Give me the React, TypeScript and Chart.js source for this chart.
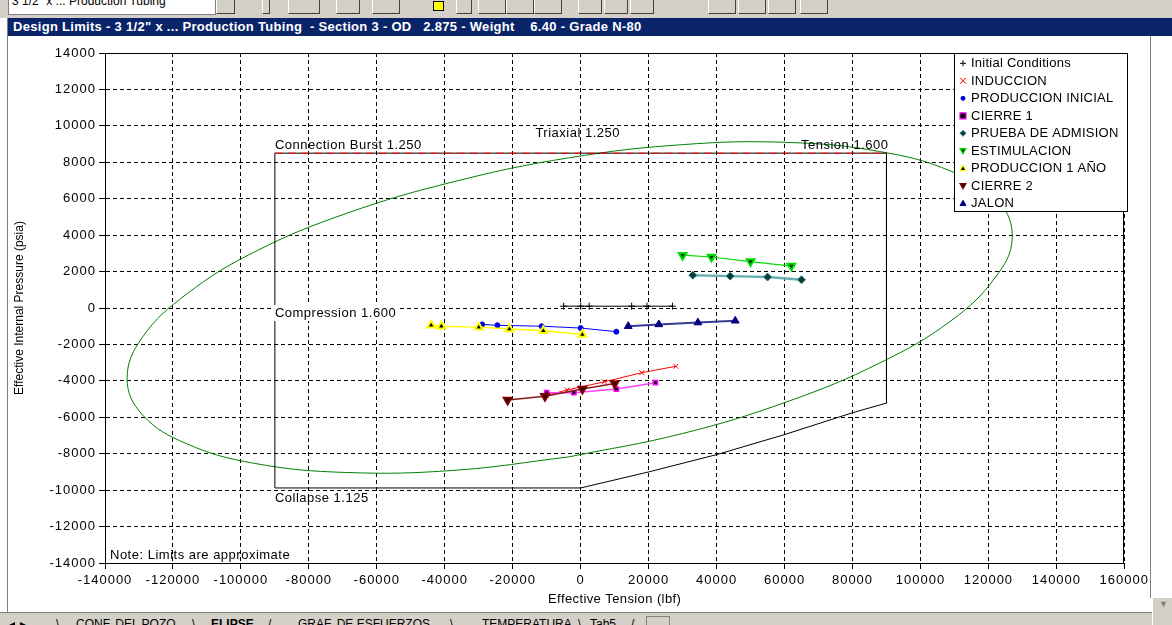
import { useEffect, useRef } from "react";
import { Chart, registerables } from "chart.js";

Chart.register(...registerables);

const FONT = '"Liberation Sans", Arial, Helvetica, sans-serif';

// Axis ticks: effective tension (lbf) and effective internal pressure (psia)
const tensionTicks = [-140000, -120000, -100000, -80000, -60000, -40000, -20000, 0, 20000, 40000, 60000, 80000, 100000, 120000, 140000, 160000];
const pressureTicks = [-14000, -12000, -10000, -8000, -6000, -4000, -2000, 0, 2000, 4000, 6000, 8000, 10000, 12000, 14000];

// Triaxial (von Mises) envelope, 1.250 design factor
const triaxialTension = [-3650, 30000, 61000, 88000, 109000, 122000, 127000, 123000, 109000, 88000, 61000, 30000, -3650, -37000, -69000, -96000, -116000, -129000, -133500, -129000, -116000, -96000, -69000, -37000, -3650];
const triaxialPressure = [-8180, -6890, -5130, -3020, -700, 1670, 3800, 5850, 7510, 8590, 9090, 8970, 8240, 6950, 5190, 3080, 760, -1610, -3870, -5860, -7450, -8530, -9030, -8910, -8180];

// Design limit box: burst / tension / collapse / compression
const limitTension = [-90000, 90000, 90000, 80000, 60000, 40000, 20000, 0, -90000, -90000];
const limitPressure = [8500, 8500, -5220, -5750, -6950, -8050, -9000, -9880, -9880, 8500];
const burstTension = [-90000, 90000];
const burstPressure = [8500, 8500];
const limitLabels = ["Connection Burst 1.250", "Triaxial 1.250", "Tension 1.600", "Compression 1.600", "Collapse 1.125"];
const noteText = "Note: Limits are approximate";

// Load cases
const seriesNames = ["Initial Conditions", "INDUCCION", "PRODUCCION INICIAL", "CIERRE 1", "PRUEBA DE ADMISION", "ESTIMULACION", "PRODUCCION 1 AÑO", "CIERRE 2", "JALON"];

const initialTension = [-5000, 0, 2500, 15000, 19500, 27000];
const initialPressure = [100, 100, 100, 100, 100, 100];

const induccionTension = [-10000, -4000, 7000, 18000, 28000];
const induccionPressure = [-4800, -4500, -4050, -3550, -3200];

const prodInicialTension = [-29000, -24500, -11500, 0, 10500];
const prodInicialPressure = [-900, -950, -1000, -1100, -1300];

const cierre1Tension = [-10000, -2000, 10500, 22000];
const cierre1Pressure = [-4650, -4650, -4450, -4100];

const pruebaTension = [33000, 44000, 55000, 65000];
const pruebaPressure = [1800, 1750, 1700, 1550];

const estimTension = [30000, 38500, 50000, 62000];
const estimPressure = [2900, 2800, 2550, 2300];

const prod1Tension = [-44000, -41000, -30000, -21000, -11000, 500];
const prod1Pressure = [-950, -1000, -1050, -1150, -1250, -1450];

const cierre2Tension = [-21500, -10500, 500, 10000];
const cierre2Pressure = [-5050, -4850, -4450, -4150];

const jalonTension = [14000, 23000, 34500, 45500];
const jalonPressure = [-1000, -900, -800, -700];

const pts = (xs: number[], ys: number[]) => xs.map((x, i) => ({ x, y: ys[i] }));

type Mark = { kind: string; line: string; lineWidth: number; fill: string; stroke: string; r: number; bw: number };

const marks: Mark[] = [
  { kind: "cross", line: "#000000", lineWidth: 1, fill: "#000000", stroke: "#000000", r: 3.5, bw: 1 },
  { kind: "crossRot", line: "#ff0000", lineWidth: 1, fill: "#ff0000", stroke: "#ff0000", r: 3.5, bw: 1 },
  { kind: "circle", line: "#0000ff", lineWidth: 1, fill: "#0000ff", stroke: "#0000cc", r: 2.5, bw: 1 },
  { kind: "rect", line: "#ff40ff", lineWidth: 1.5, fill: "#000000", stroke: "#ff00ff", r: 3, bw: 1.5 },
  { kind: "rectRot", line: "#66b2b2", lineWidth: 2.5, fill: "#0a3a3a", stroke: "#2f8080", r: 4, bw: 1 },
  { kind: "triDown", line: "#00e000", lineWidth: 1.2, fill: "#083008", stroke: "#00dd00", r: 4.5, bw: 2 },
  { kind: "triUp", line: "#ffff00", lineWidth: 1.5, fill: "#000000", stroke: "#ffff00", r: 4.5, bw: 2 },
  { kind: "triDown", line: "#8b1a1a", lineWidth: 1.5, fill: "#200000", stroke: "#800000", r: 4.5, bw: 2 },
  { kind: "triUp", line: "#3a3a96", lineWidth: 2, fill: "#000080", stroke: "#000080", r: 4.5, bw: 1 },
];

const seriesData = [
  pts(initialTension, initialPressure),
  pts(induccionTension, induccionPressure),
  pts(prodInicialTension, prodInicialPressure),
  pts(cierre1Tension, cierre1Pressure),
  pts(pruebaTension, pruebaPressure),
  pts(estimTension, estimPressure),
  pts(prod1Tension, prod1Pressure),
  pts(cierre2Tension, cierre2Pressure),
  pts(jalonTension, jalonPressure),
];

const chartStyle = (kind: string) => {
  if (kind === "triDown") return { pointStyle: "triangle", rotation: 180 };
  if (kind === "triUp") return { pointStyle: "triangle", rotation: 0 };
  return { pointStyle: kind, rotation: 0 };
};

function drawMarker(ctx: CanvasRenderingContext2D, m: Mark, x: number, y: number, r: number) {
  ctx.save();
  ctx.beginPath();
  ctx.lineWidth = m.bw;
  ctx.strokeStyle = m.stroke;
  ctx.fillStyle = m.fill;
  switch (m.kind) {
    case "cross":
      ctx.moveTo(x - r, y); ctx.lineTo(x + r, y);
      ctx.moveTo(x, y - r); ctx.lineTo(x, y + r);
      ctx.stroke();
      break;
    case "crossRot":
      ctx.moveTo(x - r, y - r); ctx.lineTo(x + r, y + r);
      ctx.moveTo(x + r, y - r); ctx.lineTo(x - r, y + r);
      ctx.stroke();
      break;
    case "circle":
      ctx.arc(x, y, r, 0, Math.PI * 2);
      ctx.fill(); ctx.stroke();
      break;
    case "rect":
      ctx.rect(x - r, y - r, 2 * r, 2 * r);
      ctx.fill(); ctx.stroke();
      break;
    case "rectRot":
      ctx.moveTo(x, y - r); ctx.lineTo(x + r, y); ctx.lineTo(x, y + r); ctx.lineTo(x - r, y);
      ctx.closePath(); ctx.fill(); ctx.stroke();
      break;
    case "triUp":
      ctx.moveTo(x, y - r); ctx.lineTo(x + r, y + r * 0.75); ctx.lineTo(x - r, y + r * 0.75);
      ctx.closePath(); ctx.fill(); ctx.stroke();
      break;
    case "triDown":
      ctx.moveTo(x, y + r); ctx.lineTo(x + r, y - r * 0.75); ctx.lineTo(x - r, y - r * 0.75);
      ctx.closePath(); ctx.fill(); ctx.stroke();
      break;
  }
  ctx.restore();
}

const decorPlugin = {
  id: "decor",
  beforeDraw(chart: any) {
    chart.ctx.letterSpacing = "1px";
  },
  afterDraw(chart: any) {
    const { ctx, chartArea: a, scales } = chart;
    const xs = scales.x;
    const ys = scales.y;
    ctx.save();

    // plot frame
    ctx.strokeStyle = "#000";
    ctx.lineWidth = 1;
    ctx.setLineDash([]);
    ctx.strokeRect(Math.round(a.left) + 0.5, Math.round(a.top) + 0.5, Math.round(a.right - a.left) - 1, Math.round(a.bottom - a.top));

    // limit labels
    ctx.font = `13px ${FONT}`;
    ctx.letterSpacing = "0.5px";
    ctx.fillStyle = "#000";
    ctx.textBaseline = "middle";
    const bl = xs.getPixelForValue(limitTension[0]);
    const br = xs.getPixelForValue(limitTension[1]);
    const bt = ys.getPixelForValue(burstPressure[0]);
    const bb = ys.getPixelForValue(limitPressure[limitPressure.length - 2]);
    ctx.textAlign = "left";
    ctx.fillText(limitLabels[0], bl, bt - 8);
    ctx.textAlign = "center";
    ctx.fillText(limitLabels[1], xs.getPixelForValue(0) - 3, bt - 20);
    ctx.textAlign = "right";
    ctx.fillText(limitLabels[2], br + 2, bt - 8);
    ctx.textAlign = "left";
    const cy = ys.getPixelForValue(0) + 5;
    const cw = ctx.measureText(limitLabels[3]).width;
    ctx.fillStyle = "#fff";
    ctx.fillRect(bl - 1, cy - 8, cw + 3, 16);
    ctx.fillStyle = "#000";
    ctx.fillText(limitLabels[3], bl, cy);
    ctx.fillText(limitLabels[4], bl, bb + 10);
    ctx.fillText(noteText, a.left + 5, a.bottom - 8);

    // axis titles
    ctx.textAlign = "center";
    ctx.letterSpacing = "0.4px";
    ctx.fillText("Effective Tension (lbf)", (a.left + a.right) / 2, a.bottom + 36);
    ctx.save();
    ctx.font = `12px ${FONT}`;
    ctx.letterSpacing = "0px";
    ctx.translate(20, (a.top + a.bottom) / 2);
    ctx.rotate(-Math.PI / 2);
    ctx.fillText("Effective Internal Pressure (psia)", 0, 0);
    ctx.restore();

    // legend
    const lx = 954.5, lt = a.top + 0.5, lr = 1127.5, lb = a.top + 158.5;
    ctx.fillStyle = "#fff";
    ctx.fillRect(lx, lt, lr - lx, lb - lt);
    ctx.strokeStyle = "#000";
    ctx.strokeRect(lx, lt, lr - lx, lb - lt);
    ctx.font = `13px ${FONT}`;
    ctx.letterSpacing = "0.25px";
    ctx.textAlign = "left";
    seriesNames.forEach((name, i) => {
      const y = a.top + 10.3 + i * 17.5;
      drawMarker(ctx, { ...marks[i], bw: Math.min(marks[i].bw, 1.2) }, 963, y, marks[i].kind === "circle" ? 2 : 3);
      ctx.fillStyle = "#000";
      ctx.fillText(name, 971, y + 0.5);
    });
    ctx.restore();
  },
};

function ChartPanel() {
  const ref = useRef<HTMLCanvasElement | null>(null);
  useEffect(() => {
    if (!ref.current) return;
    const tickFont = { family: FONT, size: 13 };
    const datasets: any[] = [
      {
        label: "Triaxial 1.250",
        data: pts(triaxialTension, triaxialPressure),
        showLine: true,
        borderColor: "#008000",
        borderWidth: 1,
        pointRadius: 0,
        tension: 0.4,
        order: 30,
      },
      {
        label: "Design limits",
        data: pts(limitTension, limitPressure),
        showLine: true,
        borderColor: "#000000",
        borderWidth: 1,
        pointRadius: 0,
        tension: 0,
        order: 29,
      },
      {
        label: "Connection Burst",
        data: pts(burstTension, burstPressure),
        showLine: true,
        borderColor: "#ff0000",
        borderDash: [8, 5],
        borderWidth: 1,
        pointRadius: 0,
        order: 28,
      },
      ...seriesNames.map((name, i) => {
        const m = marks[i];
        const st = chartStyle(m.kind);
        return {
          label: name,
          data: seriesData[i],
          showLine: true,
          borderColor: m.line,
          borderWidth: m.lineWidth,
          pointStyle: st.pointStyle,
          pointRotation: st.rotation,
          pointRadius: m.r,
          pointBackgroundColor: m.fill,
          pointBorderColor: m.stroke,
          pointBorderWidth: m.bw,
          tension: 0,
          order: 20 - i,
        };
      }),
    ];
    const chart = new Chart(ref.current, {
      type: "scatter",
      data: { datasets },
      options: {
        animation: false,
        responsive: false,
        devicePixelRatio: 1,
        events: [],
        layout: { padding: { top: 17, right: 25, left: 0, bottom: 0 } },
        plugins: { legend: { display: false }, tooltip: { enabled: false }, title: { display: false } },
        scales: {
          x: {
            type: "linear",
            min: tensionTicks[0],
            max: tensionTicks[tensionTicks.length - 1],
            ticks: {
              stepSize: tensionTicks[1] - tensionTicks[0],
              color: "#000",
              font: tickFont,
              padding: 4,
              maxRotation: 0,
              autoSkip: false,
              callback: (v: any) => String(v),
            },
            grid: { color: "#000", lineWidth: 1, tickColor: "#000", tickLength: 6, tickBorderDash: [] },
            border: { display: true, color: "#000", dash: [4, 3] },
            afterFit: (s: any) => { s.height = 49; },
          },
          y: {
            type: "linear",
            min: pressureTicks[0],
            max: pressureTicks[pressureTicks.length - 1],
            ticks: {
              stepSize: pressureTicks[1] - pressureTicks[0],
              color: "#000",
              font: tickFont,
              padding: 3,
              autoSkip: false,
              callback: (v: any) => String(v),
            },
            grid: { color: "#000", lineWidth: 1, tickColor: "#000", tickLength: 6, tickBorderDash: [] },
            border: { display: true, color: "#000", dash: [4, 3] },
            afterFit: (s: any) => { s.width = 105; },
          },
        },
      } as any,
      plugins: [decorPlugin as any],
    });
    return () => chart.destroy();
  }, []);
  return <canvas ref={ref} width={1150} height={576} style={{ position: "absolute", left: 0, top: 36, width: 1150, height: 576 }} />;
}

const btn = (left: number, width: number, extra: any = {}) => (
  <div
    key={left}
    style={{
      position: "absolute", left, top: 0, width, height: 13,
      borderRight: "1px solid #404040", borderBottom: "1px solid #404040",
      borderLeft: "1px solid #ffffff", background: "#d4d0c8", ...extra,
    }}
  />
);

const tabText = (left: number, text: string, bold = false) => (
  <span
    key={left}
    style={{
      position: "absolute", left, top: 5, fontSize: 12, lineHeight: "12px",
      fontWeight: bold ? 700 : 400, whiteSpace: "pre", color: "#000",
    }}
  >
    {text}
  </span>
);

export default function App() {
  useEffect(() => {
    document.body.style.margin = "0";
  }, []);
  return (
    <div style={{ position: "absolute", left: 0, top: 0, width: 1172, height: 625, overflow: "hidden", background: "#fff", fontFamily: FONT }}>
      {/* toolbar strip */}
      <div style={{ position: "absolute", left: 0, top: 0, width: 1172, height: 18, background: "#d4d0c8", overflow: "hidden" }}>
        <div style={{ position: "absolute", left: 8, top: -4, width: 206, height: 17, background: "#fff", border: "1px solid #808080", overflow: "hidden" }}>
          <span style={{ position: "absolute", left: 3, top: -3, fontSize: 12, whiteSpace: "pre" }}>3 1/2" x ... Production Tubing</span>
        </div>
        {btn(216, 17)}
        {btn(262, 6)}
        {btn(288, 30)}
        {btn(336, 22)}
        {btn(372, 26)}
        <div style={{ position: "absolute", left: 433, top: 1, width: 9, height: 8, background: "#ffff00", border: "1px solid #000" }} />
        {btn(456, 14)}
        {btn(478, 26)}
        {btn(506, 26)}
        {btn(534, 26)}
        {btn(578, 22)}
        {btn(604, 22)}
        {btn(630, 22)}
        {btn(708, 26)}
        {btn(738, 26)}
        {btn(768, 26)}
        {btn(800, 26)}
      </div>
      {/* window title bar */}
      <div
        style={{
          position: "absolute", left: 8, top: 18, width: 1164, height: 18, background: "#0a246a",
          color: "#fff", fontWeight: 700, fontSize: 13, letterSpacing: "0.3px", lineHeight: "18px", paddingLeft: 5, whiteSpace: "pre", boxSizing: "border-box",
        }}
      >
        {'Design Limits - 3 1/2" x ... Production Tubing  - Section 3 - OD   2.875 - Weight    6.40 - Grade N-80'}
      </div>
      <ChartPanel />
      {/* frame edges */}
      <div style={{ position: "absolute", left: 7, top: 18, width: 1, height: 594, background: "#808080" }} />
      <div style={{ position: "absolute", left: 1150, top: 36, width: 1, height: 562, background: "#808080" }} />
      <div style={{ position: "absolute", left: 1152, top: 598, width: 20, height: 27, background: "#d4d0c8", borderLeft: "1px solid #fff" }}>
        <span style={{ position: "absolute", left: 6, top: 1, fontSize: 9, color: "#808080" }}>▼</span>
      </div>
      {/* sheet tabs */}
      <div style={{ position: "absolute", left: 0, top: 612, width: 1152, height: 13, background: "#d4d0c8", borderTop: "1px solid #808080", overflow: "hidden" }}>
        {tabText(9, "◂")}
        {tabText(20, "▸")}
        {tabText(56, "\\")}
        {tabText(76, "CONF. DEL POZO")}
        {tabText(192, "\\")}
        {tabText(211, "ELIPSE", true)}
        {tabText(268, "/")}
        {tabText(298, "GRAF. DE ESFUERZOS")}
        {tabText(450, "\\")}
        {tabText(482, "TEMPERATURA")}
        {tabText(578, "\\")}
        {tabText(590, "Tab5")}
        {tabText(631, "/")}
        <div style={{ position: "absolute", left: 646, top: 3, width: 22, height: 12, background: "#d4d0c8", border: "1px solid #808080" }} />
      </div>
    </div>
  );
}
